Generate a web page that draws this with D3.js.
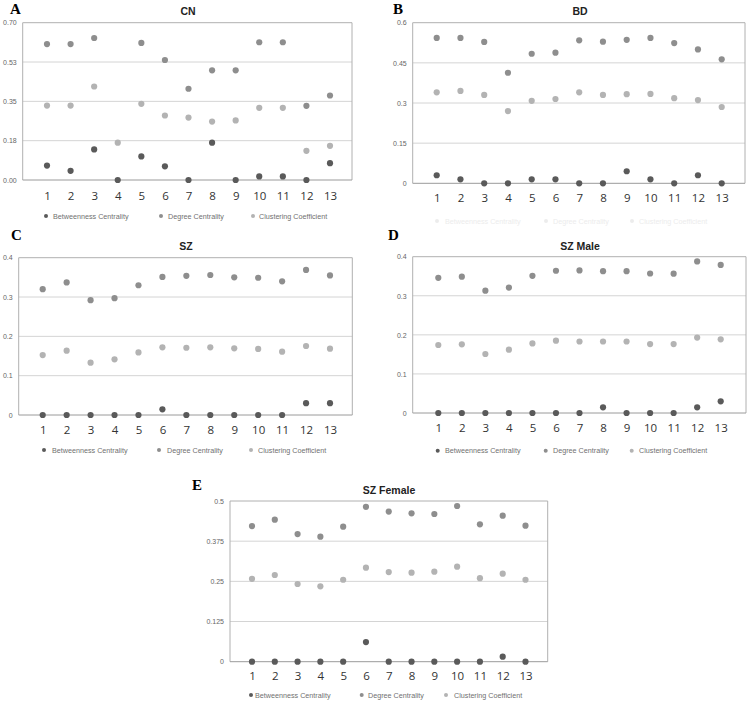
<!DOCTYPE html>
<html><head><meta charset="utf-8">
<script src="https://cdn.jsdelivr.net/npm/d3@7/dist/d3.min.js"></script>
<style>body{margin:0;background:#fff}svg{display:block}</style>
</head><body>
<svg id="chart" width="752" height="701"></svg>
<script>
const categories = [1,2,3,4,5,6,7,8,9,10,11,12,13];
const seriesNames = ["Betweenness  Centrality","Degree Centrality","Clustering Coefficient"];

// CN
const cnBetweenness = [0.064,0.041,0.136,0,0.105,0.061,0,0.166,0,0.016,0.016,0,0.075];
const cnDegree      = [0.605,0.605,0.632,null,0.610,0.534,0.406,0.488,0.488,0.613,0.613,0.330,0.376];
const cnClustering  = [0.331,0.331,0.416,0.166,0.339,0.287,0.278,0.260,0.265,0.321,0.321,0.130,0.152];
const cnTicks = [0,0.175,0.35,0.525,0.70];
const cnTickLabels = ["0.00","0.18","0.35","0.53","0.70"];

// BD
const bdBetweenness = [0.030,0.015,0,0,0.015,0.015,0,0,0.045,0.015,0,0.030,0];
const bdDegree      = [0.543,0.543,0.528,0.413,0.484,0.488,0.534,0.529,0.536,0.543,0.524,0.500,0.463];
const bdClustering  = [0.340,0.345,0.330,0.270,0.308,0.315,0.340,0.330,0.333,0.334,0.318,0.311,0.285];
const bdTicks = [0,0.15,0.3,0.45,0.6];
const bdTickLabels = ["0","0.15","0.3","0.45","0.6"];

// SZ
const szBetweenness = [0,0,0,0,0,0.0144,0,0,0,0,0,0.030,0.030];
const szDegree      = [0.320,0.337,0.292,0.297,0.330,0.351,0.354,0.356,0.350,0.349,0.340,0.369,0.355];
const szClustering  = [0.1525,0.1636,0.133,0.1415,0.159,0.172,0.171,0.172,0.1695,0.168,0.161,0.1754,0.1686];
const szTicks = [0,0.1,0.2,0.3,0.4];
const szTickLabels = ["0","0.1","0.2","0.3","0.4"];

// SZ Male
const szmBetweenness = [0,0,0,0,0,0,0,0.0145,0,0,0,0.0145,0.030];
const szmDegree      = [0.346,0.349,0.313,0.321,0.351,0.364,0.365,0.363,0.363,0.357,0.3565,0.388,0.379];
const szmClustering  = [0.174,0.1757,0.151,0.162,0.178,0.185,0.183,0.183,0.183,0.1765,0.1765,0.193,0.1885];
const szmTicks = [0,0.1,0.2,0.3,0.4];
const szmTickLabels = ["0","0.1","0.2","0.3","0.4"];

// SZ Female
const szfBetweenness = [0,0,0,0,0,0.0612,0,0,0,0,0,0.0156,0];
const szfDegree      = [0.422,0.442,0.397,0.389,0.420,0.482,0.467,0.4616,0.4595,0.4844,0.4274,0.4544,0.4232];
const szfClustering  = [0.258,0.2697,0.2417,0.2344,0.255,0.2925,0.279,0.277,0.280,0.2956,0.260,0.274,0.255];
const szfTicks = [0,0.125,0.25,0.375,0.5];
const szfTickLabels = ["0","0.125","0.25","0.375","0.5"];

const colors = ["#5a5a5a","#8e8e8e","#b3b3b3"];

const panels = [
  {letter:"A", title:"CN", series:[cnBetweenness,cnDegree,cnClustering], ticks:cnTicks, tickLabels:cnTickLabels,
   l:22.7,r:352,t:22.7,b:180, x1:47,x13:330, xLabY:199.5, legY:216, legDot:[46,161,253], legTxt:[53,168,259], faint:false,
   titleX:188, titleY:15, letX:10, letY:14},
  {letter:"B", title:"BD", series:[bdBetweenness,bdDegree,bdClustering], ticks:bdTicks, tickLabels:bdTickLabels,
   l:412.7,r:745,t:22.7,b:183.3, x1:436.7,x13:721.7, xLabY:202, legY:221, legDot:[437,546,632], legTxt:[445,553,639], faint:true,
   titleX:580, titleY:15, letX:393, letY:14},
  {letter:"C", title:"SZ", series:[szBetweenness,szDegree,szClustering], ticks:szTicks, tickLabels:szTickLabels,
   l:18.7,r:352.3,t:257.7,b:415, x1:42.7,x13:330, xLabY:434, legY:450, legDot:[44,159,251], legTxt:[52,167,258], faint:false,
   titleX:186, titleY:250, letX:11, letY:240},
  {letter:"D", title:"SZ Male", series:[szmBetweenness,szmDegree,szmClustering], ticks:szmTicks, tickLabels:szmTickLabels,
   l:412.7,r:746,t:256.7,b:413, x1:438.3,x13:720.7, xLabY:432, legY:450.7, legDot:[437.7,545.7,631.7], legTxt:[445,553,639], faint:false,
   titleX:580, titleY:250, letX:388, letY:240},
  {letter:"E", title:"SZ Female", series:[szfBetweenness,szfDegree,szfClustering], ticks:szfTicks, tickLabels:szfTickLabels,
   l:230,r:547.7,t:501,b:661.7, x1:252,x13:525.5, xLabY:679.5, legY:695, legDot:[251,361.7,446], legTxt:[255,368,454], faint:false,
   titleX:389, titleY:494, letX:192, letY:490}
];

const svg = d3.select("#chart");

panels.forEach(p => {
  const g = svg.append("g");
  const x = d3.scalePoint().domain(categories).range([p.x1, p.x13]).padding(0);
  const yMax = p.ticks[p.ticks.length-1];
  const y = d3.scaleLinear().domain([0, yMax]).range([p.b, p.t]);

  g.selectAll(".grid").data(p.ticks.slice(1,-1)).join("line")
    .attr("x1", p.l).attr("x2", p.r)
    .attr("y1", d => y(d)).attr("y2", d => y(d))
    .attr("stroke", "#d4d4d4").attr("stroke-width", 1);

  g.append("path")
    .attr("d", `M${p.l},${p.b}V${p.t}H${p.r}V${p.b}`)
    .attr("fill","none").attr("stroke","#b0b0b0").attr("stroke-width",1);
  g.append("line").attr("x1",p.l).attr("x2",p.r).attr("y1",y(0)).attr("y2",y(0))
    .attr("stroke","#9a9a9a").attr("stroke-width",1);

  const yAxis = d3.axisLeft(y).tickValues(p.ticks).tickFormat((d,i) => p.tickLabels[i]).tickSize(0).tickPadding(6);
  const ya = g.append("g").attr("transform", `translate(${p.l},0)`).call(yAxis);
  ya.select(".domain").remove();
  ya.selectAll("text").attr("font-family","Liberation Sans, Arial, sans-serif").attr("font-size","7px").attr("fill","#666");

  const xAxis = d3.axisBottom(x).tickSize(0).tickPadding(0);
  const xa = g.append("g").attr("transform", `translate(0,${p.xLabY})`).call(xAxis);
  xa.select(".domain").remove();
  xa.selectAll("text").attr("dy", 0).attr("font-family","Open Sans, sans-serif").attr("font-size","11.5px").attr("fill","#333");

  p.series.forEach((s, si) => {
    g.append("g").selectAll("circle")
      .data(categories.map((c,i) => ({c, v: s[i]})).filter(d => d.v !== null))
      .join("circle")
      .attr("cx", d => x(d.c)).attr("cy", d => y(d.v)).attr("r", 3.1)
      .attr("fill", colors[si]);
  });

  g.append("text").attr("x", p.titleX).attr("y", p.titleY).attr("text-anchor","middle")
    .attr("font-family","Liberation Sans, Arial, sans-serif").attr("font-weight","bold")
    .attr("font-size","10.5px").attr("fill","#222").text(p.title);

  g.append("text").attr("x", p.letX).attr("y", p.letY)
    .attr("font-family","Liberation Serif, Times New Roman, serif").attr("font-weight","bold")
    .attr("font-size","15px").attr("fill","#000").text(p.letter);

  seriesNames.forEach((n, i) => {
    g.append("circle").attr("cx", p.legDot[i]).attr("cy", p.legY).attr("r", 2)
      .attr("fill", p.faint ? "#ececec" : colors[i]);
    g.append("text").attr("x", p.legTxt[i]).attr("y", p.legY + 2.5)
      .attr("font-family","Liberation Sans, Arial, sans-serif").attr("font-size","7.2px")
      .attr("fill", p.faint ? "#ececec" : "#707070").text(n);
  });
});
</script>
</body></html>
